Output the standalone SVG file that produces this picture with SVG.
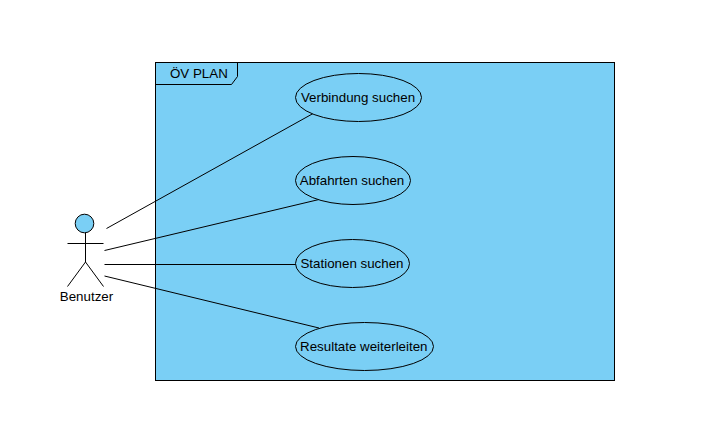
<svg xmlns="http://www.w3.org/2000/svg" width="721" height="440" viewBox="0 0 721 440">
<style>
text{font-family:"Liberation Sans",Arial,sans-serif;font-size:13.33px;fill:#000}
.s{fill:#7acff5;stroke:#000;stroke-width:1}
.l{fill:none;stroke:#000;stroke-width:1}
.m{text-anchor:middle}
</style>
<rect width="721" height="440" fill="#fff"/>
<g id="frame">
<rect class="s" x="155.500" y="62.500" width="459" height="318"/>
<path class="l" d="M155.500 84.500H231.500L237.500 76.500V62.500"/>
<text x="170" y="78">ÖV PLAN</text>
</g>
<g id="connectors">
<path class="l" d="M106.500 228.500L314 113"/>
<path class="l" d="M104.500 250.500L319 199.500"/>
<path class="l" d="M104.500 264.500H296"/>
<path class="l" d="M104.500 276L319 328"/>
</g>
<g id="uc1"><ellipse class="s" cx="358.500" cy="97.500" rx="63" ry="24"/><text class="m" x="358" y="102">Verbindung suchen</text></g>
<g id="uc2"><ellipse class="s" cx="353" cy="180.500" rx="57.500" ry="24"/><text class="m" x="352" y="185">Abfahrten suchen</text></g>
<g id="uc3"><ellipse class="s" cx="352.500" cy="263.500" rx="57" ry="24"/><text class="m" x="352" y="268">Stationen suchen</text></g>
<g id="uc4"><ellipse class="s" cx="364.500" cy="346.500" rx="69" ry="24"/><text class="m" x="363.800" y="351">Resultate weiterleiten</text></g>
<g id="actor">
<circle class="s" cx="84.500" cy="223.500" r="9.300"/>
<path class="l" d="M85.500 233V262M67.500 243.500H103.500M85.500 262L67.500 286.500M85.500 262L103.500 286.500"/>
<text class="m" x="86.500" y="301">Benutzer</text>
</g>
</svg>
